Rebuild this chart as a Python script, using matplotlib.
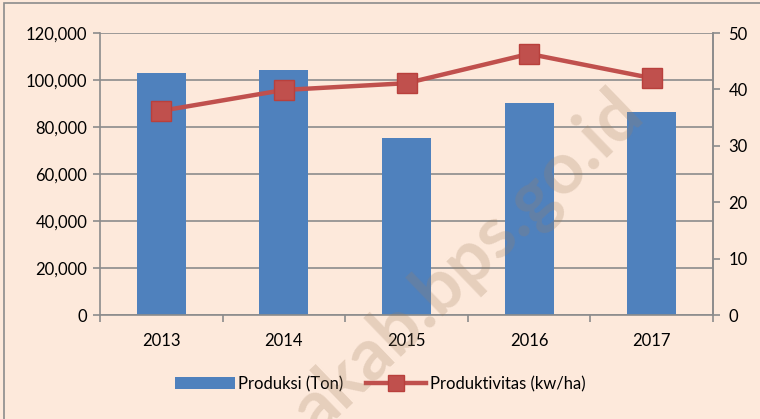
import matplotlib
matplotlib.use("Agg")
import matplotlib.pyplot as plt
from matplotlib.patches import Rectangle
import numpy as np

years = ["2013", "2014", "2015", "2016", "2017"]
produksi = [103000, 104300, 75300, 90200, 86400]
produktivitas = [36.2, 39.9, 41.1, 46.3, 42.0]
left_ticks = [0, 20000, 40000, 60000, 80000, 100000, 120000]
right_ticks = [0, 10, 20, 30, 40, 50]

plt.rcParams['font.family'] = ['Lato', 'DejaVu Sans']
bg = "#FDE9DB"
bar_c = "#4F81BD"
line_c = "#C0504D"
grid_c = "#8C8C8C"

fig = plt.figure(figsize=(7.6, 4.19), dpi=100, facecolor=bg)
ax = fig.add_axes([100/760, 1-315/419, 613/760, 282/419])
ax.set_facecolor(bg)
x = np.arange(len(years))
ax.bar(x, produksi, width=0.4, color=bar_c, zorder=2, label="Produksi (Ton)")
ax.set_xlim(-0.5, len(years)-0.5)
ax.set_ylim(0, 120000)
ax.set_yticks(left_ticks)
ax.set_yticklabels([f"{v:,}" for v in left_ticks], fontsize=12)
ax.set_xticks(x)
ax.set_xticklabels(years, fontsize=12)
ax.set_xticks(np.arange(-0.5, len(years), 1.0), minor=True)
ax.tick_params(axis='x', which='major', length=0, pad=13)
ax.tick_params(axis='x', which='minor', length=5, color=grid_c, width=1.2)
ax.tick_params(axis='y', length=5, color=grid_c, width=1.2, pad=4)
ax.yaxis.grid(True, color=grid_c, linewidth=1.2, zorder=0)
ax.set_axisbelow(True)
ax.spines['top'].set_visible(False)
for s in ['left', 'right', 'bottom']:
    ax.spines[s].set_color(grid_c)
    ax.spines[s].set_linewidth(1.2)

ax2 = ax.twinx()
ax2.plot(x, produktivitas, color=line_c, linewidth=3.2, marker='s', markersize=14,
         markerfacecolor=line_c, markeredgecolor="#B9403C", zorder=3, label="Produktivitas (kw/ha)")
ax2.set_ylim(0, 50)
ax2.set_yticks(right_ticks)
ax2.set_yticklabels([str(v) for v in right_ticks], fontsize=12)
ax2.tick_params(axis='y', length=5, color=grid_c, width=1.2, pad=6)
for s in ['top', 'left', 'bottom']:
    ax2.spines[s].set_visible(False)
ax2.spines['right'].set_color(grid_c)
ax2.spines['right'].set_linewidth(1.2)

h1, l1 = ax.get_legend_handles_labels()
h2, l2 = ax2.get_legend_handles_labels()
fig.legend(h1 + h2, l1 + l2, loc='center', bbox_to_anchor=(0.5, 1-384/419), ncol=2,
           frameon=False, fontsize=12, handlelength=3.6, handletextpad=0.2, columnspacing=1.4,
           markerscale=0.8)

fig.text(468/760, 1-262/419, "akab.bps.go.id", fontsize=52, fontweight='bold', color="#A08060",
         alpha=0.25, rotation=44, ha='center', va='center', zorder=10)

fig.patches.append(Rectangle((4/760, -0.05), 1.1, 1-3/419+0.05, transform=fig.transFigure,
                             fill=False, edgecolor="#8C8C8C", linewidth=1.2))

fig.savefig("out.png", dpi=100, facecolor=bg)
